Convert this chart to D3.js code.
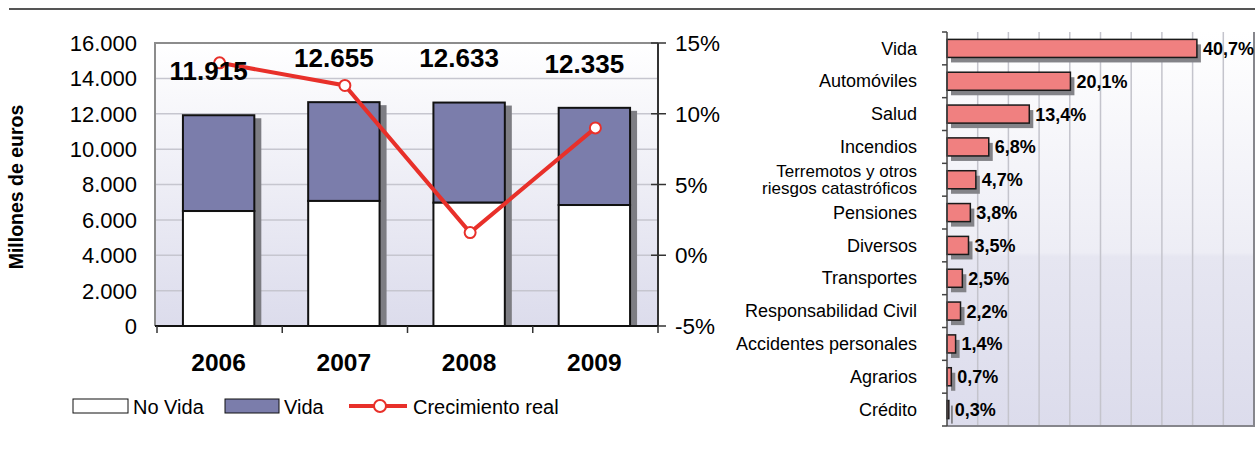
<!DOCTYPE html>
<html>
<head>
<meta charset="utf-8">
<script src="https://cdn.jsdelivr.net/npm/d3@7"></script>
<style>
  body { margin: 0; background: #fff; }
  svg { display: block; font-family: "Liberation Sans", Arial, sans-serif; }
</style>
</head>
<body>
<svg id="chart" width="1255" height="461"></svg>
<script>
// ---- data: left chart ----
const years = ["2006", "2007", "2008", "2009"];
const noVida = [6500, 7070, 6970, 6840];
const totals = [11915, 12655, 12633, 12335];
const totalLabels = ["11.915", "12.655", "12.633", "12.335"];
const growth = [13.6, 12.0, 1.6, 9.0];
const yTicks = [0, 2000, 4000, 6000, 8000, 10000, 12000, 14000, 16000];
const y2Ticks = [-5, 0, 5, 10, 15];

// ---- data: right chart ----
const branches = ["Vida", "Automóviles", "Salud", "Incendios",
  "Terremotos y otros|riesgos catastróficos", "Pensiones", "Diversos",
  "Transportes", "Responsabilidad Civil", "Accidentes personales", "Agrarios", "Crédito"];
const shares = [40.7, 20.1, 13.4, 6.8, 4.7, 3.8, 3.5, 2.5, 2.2, 1.4, 0.7, 0.3];

const svg = d3.select("#chart");
const defs = svg.append("defs");

function grad(id, stops) {
  const g = defs.append("linearGradient").attr("id", id)
    .attr("x1", 0).attr("y1", 0).attr("x2", 0).attr("y2", 1);
  stops.forEach(s => g.append("stop").attr("offset", s[0]).attr("stop-color", s[1]));
}
grad("bgLeft", [[0, "#ffffff"], [1, "#dcdcec"]]);
grad("bgRight", [[0, "#ffffff"], [0.56, "#ededf5"], [0.57, "#e6e6f1"], [1, "#dcdcec"]]);

// top rule
svg.append("line").attr("x1", 9).attr("x2", 1255).attr("y1", 9).attr("y2", 9)
  .attr("stroke", "#555").attr("stroke-width", 2);

// ================= LEFT CHART =================
const L = { left: 155, right: 658, top: 43, bottom: 326 };
const x = d3.scaleBand().domain(years).range([157, L.right]).paddingInner(0.43).paddingOuter(0.215);
const band = d3.scaleBand().domain(years).range([157, L.right]);
const y = d3.scaleLinear().domain([0, 16000]).range([L.bottom, L.top]);
const y2 = d3.scaleLinear().domain([-5, 15]).range([L.bottom, L.top]);

const left = svg.append("g");
left.append("rect").attr("x", L.left).attr("y", L.top)
  .attr("width", L.right - L.left).attr("height", L.bottom - L.top)
  .attr("fill", "url(#bgLeft)");

left.selectAll(".grid").data(yTicks.slice(1)).join("line")
  .attr("x1", L.left).attr("x2", L.right)
  .attr("y1", d => y(d)).attr("y2", d => y(d))
  .attr("stroke", "#c6c6cf").attr("stroke-width", 1.5);

// border left/top
left.append("path")
  .attr("d", `M${L.left},${L.bottom}V${L.top}H${L.right}`)
  .attr("fill", "none").attr("stroke", "#8c8c8c").attr("stroke-width", 2);

const barData = years.map((yr, i) => ({ yr, noVida: noVida[i], total: totals[i] }));
const bx = d => x(d.yr) - 1;

// shadows
left.selectAll(".shadow").data(barData).join("rect")
  .attr("x", d => bx(d) + 7).attr("y", d => y(d.total) + 3)
  .attr("width", x.bandwidth()).attr("height", d => L.bottom - y(d.total) - 3)
  .attr("fill", "#7d7d83");

// vida (top part)
left.selectAll(".vida").data(barData).join("rect")
  .attr("x", bx).attr("y", d => y(d.total))
  .attr("width", x.bandwidth()).attr("height", d => y(d.noVida) - y(d.total))
  .attr("fill", "#7b7dab").attr("stroke", "#111").attr("stroke-width", 2);

// no vida
left.selectAll(".novida").data(barData).join("rect")
  .attr("x", bx).attr("y", d => y(d.noVida))
  .attr("width", x.bandwidth()).attr("height", d => L.bottom - y(d.noVida))
  .attr("fill", "#fff").attr("stroke", "#111").attr("stroke-width", 2);

// left tick labels
left.selectAll(".ytl").data(yTicks).join("text")
  .attr("x", 137).attr("y", d => y(d)).attr("dy", "0.36em")
  .attr("text-anchor", "end").attr("font-size", 22)
  .text(d => d3.format(",")(d).replace(/,/g, "."));

// right axis
const rAxis = left.append("g");
rAxis.append("line").attr("x1", L.right).attr("x2", L.right)
  .attr("y1", L.top).attr("y2", L.bottom).attr("stroke", "#333").attr("stroke-width", 2);
rAxis.selectAll("line.t").data(y2Ticks).join("line").attr("class", "t")
  .attr("x1", L.right - 7).attr("x2", L.right + 8)
  .attr("y1", d => y2(d)).attr("y2", d => y2(d))
  .attr("stroke", "#333").attr("stroke-width", 1.5);
rAxis.selectAll("text").data(y2Ticks).join("text")
  .attr("x", 675).attr("y", d => y2(d)).attr("dy", "0.36em")
  .attr("font-size", 22.5).text(d => d + "%");

// bottom axis
left.append("line").attr("x1", L.left).attr("x2", L.right)
  .attr("y1", L.bottom).attr("y2", L.bottom).attr("stroke", "#111").attr("stroke-width", 2);
const bTicks = years.map(d => band(d)).concat([L.right]);
left.selectAll(".xt").data(bTicks).join("line")
  .attr("x1", d => d).attr("x2", d => d)
  .attr("y1", L.bottom).attr("y2", L.bottom + 7)
  .attr("stroke", "#333").attr("stroke-width", 1.5);
left.selectAll(".xl").data(years).join("text")
  .attr("x", d => band(d) + band.bandwidth() / 2 - 1).attr("y", 371)
  .attr("text-anchor", "middle").attr("font-size", 24.5).attr("font-weight", "bold")
  .text(d => d);

// growth line
const cx = (d, i) => band(years[i]) + band.bandwidth() / 2;
left.append("path")
  .attr("d", d3.line().x((d, i) => cx(d, i)).y(d => y2(d))(growth))
  .attr("fill", "none").attr("stroke", "#e8302a").attr("stroke-width", 4);
left.selectAll(".pt").data(growth).join("circle")
  .attr("cx", cx).attr("cy", d => y2(d)).attr("r", 5.5)
  .attr("fill", "#fff").attr("stroke", "#e8302a").attr("stroke-width", 2);

// total labels (baseline placed above the bars, clear of the line)
const labelBase = [13900, 14650, 14650, 14300];
left.selectAll(".tl").data(totalLabels).join("text")
  .attr("x", (d, i) => band(years[i]) + band.bandwidth() / 2 - 11)
  .attr("y", (d, i) => y(labelBase[i]))
  .attr("text-anchor", "middle").attr("font-size", 26).attr("font-weight", "bold")
  .text(d => d);

// y title
svg.append("text").attr("transform", "translate(23,187) rotate(-90)")
  .attr("text-anchor", "middle").attr("font-size", 19.5).attr("font-weight", "bold")
  .text("Millones de euros");

// legend
const lg = svg.append("g").attr("font-size", 20);
lg.append("rect").attr("x", 73).attr("y", 399).attr("width", 55).attr("height", 14)
  .attr("fill", "#fff").attr("stroke", "#111").attr("stroke-width", 1);
lg.append("text").attr("x", 133).attr("y", 414).text("No Vida");
lg.append("rect").attr("x", 225).attr("y", 399).attr("width", 54).attr("height", 14)
  .attr("fill", "#7b7dab").attr("stroke", "#111").attr("stroke-width", 1);
lg.append("text").attr("x", 284).attr("y", 414).text("Vida");
lg.append("line").attr("x1", 349).attr("x2", 407).attr("y1", 406).attr("y2", 406)
  .attr("stroke", "#e8302a").attr("stroke-width", 4);
lg.append("circle").attr("cx", 380).attr("cy", 406).attr("r", 6)
  .attr("fill", "#fff").attr("stroke", "#e8302a").attr("stroke-width", 2);
lg.append("text").attr("x", 413).attr("y", 414).text("Crecimiento real");

// ================= RIGHT CHART =================
const R = { left: 947, right: 1254, top: 32, bottom: 426 };
const rx = d3.scaleLinear().domain([0, 50]).range([R.left, R.right]);
const ry = d3.scaleBand().domain(branches).range([R.top, R.bottom])
  .paddingInner(0.45).paddingOuter(0.225);
const ryb = d3.scaleBand().domain(branches).range([R.top, R.bottom]);

const right = svg.append("g");
right.append("rect").attr("x", R.left).attr("y", R.top)
  .attr("width", R.right - R.left).attr("height", R.bottom - R.top)
  .attr("fill", "url(#bgRight)");
right.selectAll(".vg").data(d3.range(5, 50, 5)).join("line")
  .attr("x1", d => rx(d)).attr("x2", d => rx(d))
  .attr("y1", R.top).attr("y2", R.bottom)
  .attr("stroke", "#c4c4cc").attr("stroke-width", 1.5);
right.append("path")
  .attr("d", `M${R.left},${R.bottom}H${R.right}V${R.top}`)
  .attr("fill", "none").attr("stroke", "#86868c").attr("stroke-width", 2);

const rData = branches.map((b, i) => ({ b, v: shares[i] }));
right.selectAll(".rs").data(rData).join("rect")
  .attr("x", R.left + 4).attr("y", d => ry(d.b) + 5)
  .attr("width", d => rx(d.v) - R.left).attr("height", ry.bandwidth())
  .attr("fill", "#838388");
right.selectAll(".rb").data(rData).join("rect")
  .attr("x", R.left).attr("y", d => ry(d.b))
  .attr("width", d => rx(d.v) - R.left).attr("height", ry.bandwidth())
  .attr("fill", "#f08080").attr("stroke", "#1a1a1a").attr("stroke-width", 1.5);

right.selectAll(".rv").data(rData).join("text")
  .attr("x", d => rx(d.v) + 6).attr("y", d => ry(d.b) + ry.bandwidth() / 2)
  .attr("dy", "0.36em").attr("font-size", 18).attr("font-weight", "bold")
  .text(d => d3.format(".1f")(d.v).replace(".", ",") + "%");

// left axis
right.append("line").attr("x1", R.left).attr("x2", R.left)
  .attr("y1", R.top).attr("y2", R.bottom).attr("stroke", "#444").attr("stroke-width", 1.5);
right.selectAll(".rt").data(branches.map(b => ryb(b)).concat([R.bottom])).join("line")
  .attr("x1", R.left - 5).attr("x2", R.left)
  .attr("y1", d => d).attr("y2", d => d)
  .attr("stroke", "#444").attr("stroke-width", 1.5);

right.selectAll(".rl").data(branches).join("text")
  .attr("text-anchor", "end")
  .attr("font-size", d => d.includes("|") ? 17 : 18)
  .each(function(d) {
    const lines = d.split("|");
    const c = ryb(d) + ryb.bandwidth() / 2;
    d3.select(this).selectAll("tspan").data(lines).join("tspan")
      .attr("x", 917)
      .attr("y", (l, i) => c + (i - (lines.length - 1) / 2) * 17.5)
      .attr("dy", "0.34em")
      .text(l => l);
  });
</script>
</body>
</html>
